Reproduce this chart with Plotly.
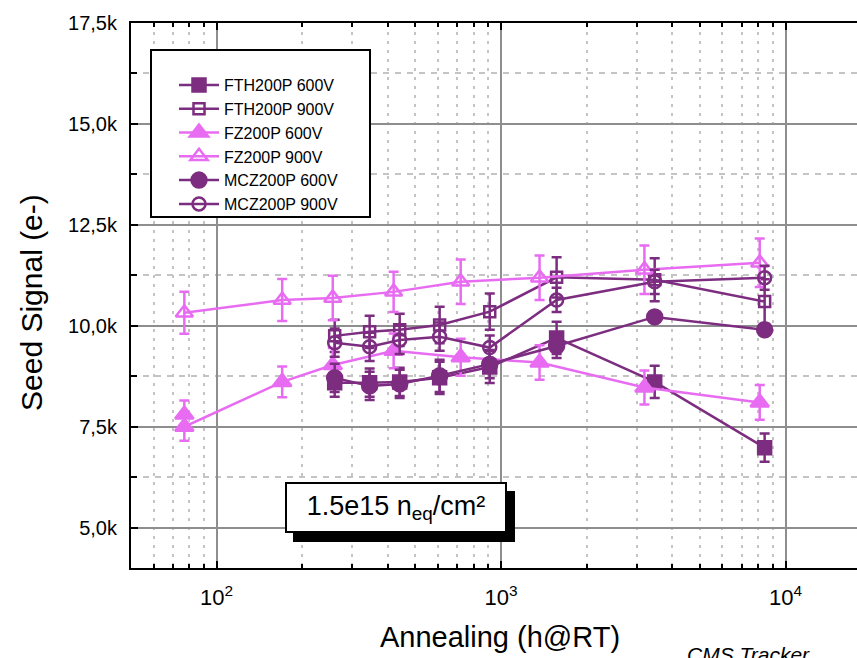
import math
import plotly.graph_objects as go

# ---------------- data ----------------
x_fz600 = [77, 77, 170, 256, 419, 721, 1365, 3190, 8110]
y_fz600 = [7800, 7500, 8610, 9030, 9380, 9220, 9090, 8470, 8100]
e_fz600 = [350, 350, 380, 420, 430, 460, 430, 420, 430]

x_fz900 = [77, 170, 256, 419, 721, 1365, 3190, 8110]
y_fz900 = [10320, 10640, 10690, 10840, 11090, 11190, 11390, 11560]
e_fz900 = [520, 520, 550, 500, 550, 550, 600, 600]

x_cl = [260, 345, 440, 608, 912, 1567, 3466, 8440]
y_fth600 = [8590, 8590, 8610, 8710, 8980, 9700, 8610, 6980]
e_fth600 = [350, 350, 350, 400, 400, 400, 400, 350]
y_fth900 = [9750, 9850, 9900, 10020, 10350, 11200, 11140, 10600]
e_fth900 = [400, 400, 400, 450, 450, 500, 530, 550]
y_mcz600 = [8710, 8510, 8560, 8760, 9050, 9500, 10220, 9900]
e_mcz600 = [350, 350, 350, 400, 350, 300, 120, 120]
y_mcz900 = [9580, 9480, 9650, 9730, 9460, 10640, 11090, 11190]
e_mcz900 = [350, 350, 350, 350, 300, 300, 300, 300]

names = ["FTH200P 600V", "FTH200P 900V", "FZ200P 600V", "FZ200P 900V",
         "MCZ200P 600V", "MCZ200P 900V"]

ytick_vals = [5000, 7500, 10000, 12500, 15000, 17500]
ytick_text = ["5,0k", "7,5k", "10,0k", "12,5k", "15,0k", "17,5k"]
yminor_vals = [6250, 8750, 11250, 13750, 16250]
xtick_vals = [100, 1000, 10000]
xtick_text = ["10<sup>2</sup>", "10<sup>3</sup>", "10<sup>4</sup>"]
xminor_vals = [60, 70, 80, 90, 200, 300, 400, 500, 600, 700, 800, 900,
               2000, 3000, 4000, 5000, 6000, 7000, 8000, 9000]

DARK = "#7d2d80"
PINK = "#e86cf2"
FONT = "Liberation Sans"

fig = go.Figure()

def add(x, y, e, name, color, symbol, size, group):
    fig.add_trace(go.Scatter(
        x=x, y=y, name=name, mode="lines+markers", legendgroup=group,
        line=dict(color=color, width=2.5),
        marker=dict(symbol=symbol, size=size, color=color,
                    line=dict(color=color, width=2.5)),
        error_y=dict(type="data", array=e, color=color, thickness=2.5, width=5),
    ))

add(x_cl, y_fth600, e_fth600, names[0], DARK, "square", 13, "a")
add(x_cl, y_fth900, e_fth900, names[1], DARK, "square-open", 11, "b")
add(x_fz600, y_fz600, e_fz600, names[2], PINK, "triangle-up", 16, "c")
add(x_fz900, y_fz900, e_fz900, names[3], PINK, "triangle-up-open", 15, "d")
add(x_cl, y_mcz600, e_mcz600, names[4], DARK, "circle", 15, "e")
add(x_cl, y_mcz900, e_mcz900, names[5], DARK, "circle-open", 13, "f")

# geometry helpers (pixel -> paper)
L, R, T, B = 131, 857, 23, 568
W, H = R - L, B - T
def px(x): return (x - L) / W
def py(y): return (B - y) / H

fig.update_layout(
    width=857, height=658,
    margin=dict(l=L, r=857 - R, t=T, b=658 - B),
    paper_bgcolor="white", plot_bgcolor="white",
    font=dict(family=FONT, color="black"),
    showlegend=True,
    legend=dict(x=px(156), y=py(68), xanchor="left", yanchor="top",
                bgcolor="rgba(0,0,0,0)", borderwidth=0,
                font=dict(size=16, family=FONT), itemwidth=40,
                tracegroupgap=0, indentation=18),
    xaxis=dict(type="log", range=[math.log10(50), 4.251],
               showline=True, linecolor="black", linewidth=2, mirror="ticks",
               ticks="inside", ticklen=7, tickwidth=2, tickcolor="black",
               tickvals=xtick_vals, ticktext=xtick_text,
               tickfont=dict(size=22, family=FONT), ticklabelstandoff=9,
               showgrid=True, gridcolor="#8e8e8e", gridwidth=2, zeroline=False,
               minor=dict(tickvals=xminor_vals, ticks="inside", ticklen=4,
                          tickwidth=1.5, tickcolor="black", showgrid=True,
                          gridcolor="#c4c4c4", gridwidth=1.5, griddash="3px,6px")),
    yaxis=dict(range=[4000, 17500],
               showline=True, linecolor="black", linewidth=2, mirror=False,
               ticks="inside", ticklen=7, tickwidth=2, tickcolor="black",
               tickvals=ytick_vals, ticktext=ytick_text,
               tickfont=dict(size=20, family=FONT), ticklabelstandoff=8,
               showgrid=True, gridcolor="#8e8e8e", gridwidth=2, zeroline=False,
               minor=dict(tickvals=yminor_vals, ticks="inside", ticklen=6,
                          tickwidth=1.5, tickcolor="black", showgrid=True,
                          gridcolor="#c4c4c4", gridwidth=1.5, griddash="6px,6px")),
)

# legend frame
fig.add_shape(type="rect", xref="paper", yref="paper",
              x0=px(151), x1=px(370), y0=py(217), y1=py(50),
              fillcolor="white", line=dict(color="black", width=2), layer="above")

# shadow of the fluence label box
fig.add_shape(type="rect", xref="paper", yref="paper",
              x0=px(293), x1=px(515), y0=py(542), y1=py(491),
              fillcolor="black", line=dict(width=0), layer="above")
fig.add_annotation(xref="paper", yref="paper", x=px(396), y=py(507),
                   xanchor="center", yanchor="middle", showarrow=False,
                   text="1.5e15 n<sub>eq</sub>/cm²", font=dict(size=27, family=FONT),
                   bgcolor="white", bordercolor="black", borderwidth=2,
                   borderpad=6, width=206, height=35)

fig.add_annotation(xref="paper", yref="paper", x=px(31), y=py(303),
                   xanchor="center", yanchor="middle", showarrow=False,
                   textangle=-90, text="Seed Signal (e-)",
                   font=dict(size=30, family=FONT))
fig.add_annotation(xref="paper", yref="paper", x=px(500), y=py(637),
                   xanchor="center", yanchor="middle", showarrow=False,
                   text="Annealing (h@RT)", font=dict(size=29, family=FONT))
fig.add_annotation(xref="paper", yref="paper", x=px(748), y=py(641),
                   xanchor="center", yanchor="top", showarrow=False,
                   text="<i>CMS Tracker</i>", font=dict(size=21, family=FONT))

fig.write_html("out.html")
